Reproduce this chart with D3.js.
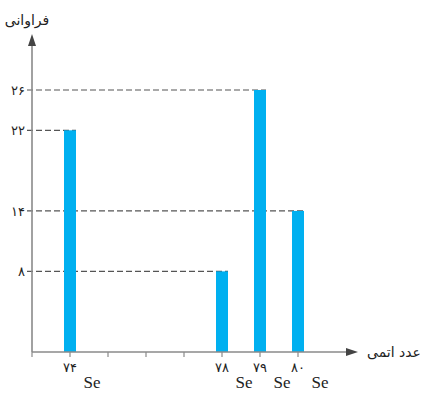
<!DOCTYPE html>
<html>
<head>
<meta charset="utf-8">
<script src="https://cdn.jsdelivr.net/npm/d3@7"></script>
<style>
  body { margin: 0; background: #fff; }
  svg { display: block; }
</style>
</head>
<body>
<svg width="427" height="393"></svg>
<script>
'use strict';

// data
var massNumbers = [74, 78, 79, 80];
var abundance = [22, 8, 26, 14];
var xTickValues = [73, 74, 75, 76, 77, 78, 79, 80];
var yTickValues = [8, 14, 22, 26];
var labelledX = [74, 78, 79, 80];
var yTitle = 'فراوانی';
var xTitle = 'عدد اتمی';
var elementName = 'Se';

var faDigits = '۰۱۲۳۴۵۶۷۸۹';
function toFa(n) {
  return String(n).replace(/[0-9]/g, function (c) { return faDigits[+c]; });
}

var svg = d3.select('svg');

var x = d3.scaleLinear().domain([73, 80]).range([32, 298]);
var y = d3.scaleLinear().domain([0, 26]).range([352, 90]);

var axisColor = '#8a8a8a';
var barColor = '#00b0f0';

// dashed guide lines from the y axis to each bar
var guides = svg.append('g');
massNumbers.forEach(function (m, i) {
  guides.append('line')
    .attr('x1', x(73) - 5)
    .attr('x2', x(m) + 6)
    .attr('y1', y(abundance[i]))
    .attr('y2', y(abundance[i]))
    .attr('stroke', '#555')
    .attr('stroke-width', 1.2)
    .attr('stroke-dasharray', '6,3');
});

// bars
svg.append('g')
  .selectAll('rect')
  .data(massNumbers)
  .enter()
  .append('rect')
  .attr('x', function (d) { return x(d) - 6; })
  .attr('width', 12)
  .attr('y', function (d, i) { return y(abundance[i]); })
  .attr('height', function (d, i) { return y(0) - y(abundance[i]); })
  .attr('fill', barColor);

// axes
svg.append('line')
  .attr('x1', x(73)).attr('x2', x(73))
  .attr('y1', y(0)).attr('y2', 42)
  .attr('stroke', axisColor).attr('stroke-width', 1.6);
svg.append('path')
  .attr('d', 'M' + x(73) + ',34 L' + (x(73) - 4) + ',46 L' + (x(73) + 4) + ',46 Z')
  .attr('fill', '#444');

svg.append('line')
  .attr('x1', x(73)).attr('x2', 348)
  .attr('y1', y(0)).attr('y2', y(0))
  .attr('stroke', axisColor).attr('stroke-width', 1.6);
svg.append('path')
  .attr('d', 'M358,' + y(0) + ' L346,' + (y(0) - 4) + ' L346,' + (y(0) + 4) + ' Z')
  .attr('fill', '#444');

// x ticks
svg.append('g')
  .selectAll('line')
  .data(xTickValues)
  .enter()
  .append('line')
  .attr('x1', function (d) { return x(d); })
  .attr('x2', function (d) { return x(d); })
  .attr('y1', y(0))
  .attr('y2', y(0) + 5)
  .attr('stroke', axisColor)
  .attr('stroke-width', 1.2);

// x tick labels
svg.append('g')
  .selectAll('text')
  .data(labelledX)
  .enter()
  .append('text')
  .attr('x', function (d) { return x(d); })
  .attr('y', 372)
  .attr('text-anchor', 'middle')
  .attr('font-family', 'DejaVu Sans')
  .attr('font-size', 13)
  .attr('fill', '#222')
  .text(function (d) { return toFa(d); });

svg.append('g')
  .selectAll('text')
  .data(labelledX)
  .enter()
  .append('text')
  .attr('x', function (d) { return x(d) + 22; })
  .attr('y', 388)
  .attr('text-anchor', 'middle')
  .attr('font-family', 'Liberation Serif')
  .attr('font-size', 17)
  .attr('fill', '#222')
  .text(elementName);

// y tick labels
svg.append('g')
  .selectAll('text')
  .data(yTickValues)
  .enter()
  .append('text')
  .attr('x', 25)
  .attr('y', function (d) { return y(d) + 5; })
  .attr('text-anchor', 'end')
  .attr('font-family', 'DejaVu Sans')
  .attr('font-size', 13)
  .attr('fill', '#222')
  .text(function (d) { return toFa(d); });

// titles
svg.append('text')
  .attr('x', 27)
  .attr('y', 25)
  .attr('text-anchor', 'middle')
  .attr('font-family', 'DejaVu Sans')
  .attr('font-size', 14)
  .attr('fill', '#222')
  .text(yTitle);

svg.append('text')
  .attr('x', 394)
  .attr('y', 357)
  .attr('text-anchor', 'middle')
  .attr('font-family', 'DejaVu Sans')
  .attr('font-size', 14)
  .attr('fill', '#222')
  .text(xTitle);
</script>
</body>
</html>
